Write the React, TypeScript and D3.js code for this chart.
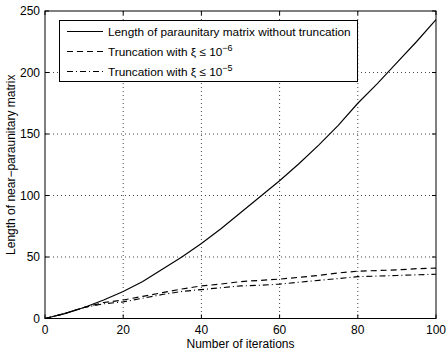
import React from "react";
import * as d3 from "d3";

const iterations = [0, 5, 10, 15, 20, 25, 30, 35, 40, 45, 50, 55, 60, 65, 70, 75, 80, 85, 90, 95, 100];
const noTruncation = [0, 4, 9, 15, 22, 30, 40, 50, 61, 73, 86, 99, 112, 126, 141, 157, 175, 191, 208, 225, 243];
const trunc1e6 = [0, 4, 9, 13, 15, 18, 21, 24, 26.5, 28, 30, 31, 32, 33.5, 35, 37, 38.5, 39, 39.5, 40.5, 41];
const trunc1e5 = [0, 4, 9, 12, 13.5, 16.5, 19.5, 22, 23.5, 25, 26.5, 27, 28, 29.5, 31, 32.5, 34, 34.5, 35, 35.5, 36];
const xTicks = [0, 20, 40, 60, 80, 100];
const yTicks = [0, 50, 100, 150, 200, 250];
const legendLabels = ["Length of paraunitary matrix without truncation", "Truncation with ξ ≤ 10", "Truncation with ξ ≤ 10"];
const legendExps = ["", "−6", "−5"];

const W = 446, H = 352;
const L = 45, R = 436, T = 11, B = 318.5;
const FONT = "'Liberation Sans', Arial, Helvetica, sans-serif";

export default function App() {
  const x = d3.scaleLinear().domain([0, 100]).range([L, R]);
  const y = d3.scaleLinear().domain([0, 250]).range([B, T]);
  const line = d3.line<number>().x((_, i) => x(iterations[i])).y((d) => y(d));
  const series = [
    { data: noTruncation, dash: "none" },
    { data: trunc1e6, dash: "6,4" },
    { data: trunc1e5, dash: "6,3,1,3" },
  ];
  const tick = 4;
  return (
    <svg width={W} height={H} style={{ position: "absolute", left: 0, top: 0, background: "#fff" }} fontFamily={FONT}>
      <rect x={0} y={0} width={W} height={H} fill="#fff" />
      {/* grid */}
      {xTicks.slice(1, -1).map((t) => (
        <line key={"gx" + t} x1={x(t)} x2={x(t)} y1={T} y2={B} stroke="#444" strokeWidth={1} strokeDasharray="1,3" />
      ))}
      {yTicks.slice(1, -1).map((t) => (
        <line key={"gy" + t} x1={L} x2={R} y1={y(t)} y2={y(t)} stroke="#444" strokeWidth={1} strokeDasharray="1,3" />
      ))}
      {/* series */}
      {series.map((s, i) => (
        <path key={i} d={line(s.data) || ""} fill="none" stroke="#000" strokeWidth={1.15} strokeDasharray={s.dash} />
      ))}
      {/* box */}
      <rect x={L} y={T} width={R - L} height={B - T} fill="none" stroke="#000" strokeWidth={1} />
      {/* ticks */}
      {xTicks.map((t) => (
        <g key={"tx" + t}>
          <line x1={x(t)} x2={x(t)} y1={B} y2={B - tick} stroke="#000" />
          <line x1={x(t)} x2={x(t)} y1={T} y2={T + tick} stroke="#000" />
          <text x={x(t)} y={B + 15} textAnchor="middle" fontSize={12}>{t}</text>
        </g>
      ))}
      {yTicks.map((t) => (
        <g key={"ty" + t}>
          <line x1={L} x2={L + tick} y1={y(t)} y2={y(t)} stroke="#000" />
          <line x1={R} x2={R - tick} y1={y(t)} y2={y(t)} stroke="#000" />
          <text x={L - 5} y={y(t) + 4} textAnchor="end" fontSize={12}>{t}</text>
        </g>
      ))}
      <text x={(L + R) / 2} y={348} textAnchor="middle" fontSize={12}>Number of iterations</text>
      <text transform={`translate(15,${(T + B) / 2}) rotate(-90)`} textAnchor="middle" fontSize={12}>
        Length of near−paraunitary matrix
      </text>
      {/* legend */}
      <rect x={59.5} y={20.5} width={298} height={61} fill="#fff" stroke="#000" strokeWidth={1} />
      {series.map((s, i) => {
        const ry = 31.5 + i * 20;
        return (
          <g key={"lg" + i}>
            <line x1={67} x2={103} y1={ry} y2={ry} stroke="#000" strokeWidth={1.15} strokeDasharray={s.dash} />
            <text x={108} y={ry + 4} fontSize={11.8}>
              {legendLabels[i]}
              {legendExps[i] && (
                <tspan dy={-5} fontSize={9}>{legendExps[i]}</tspan>
              )}
            </text>
          </g>
        );
      })}
    </svg>
  );
}
